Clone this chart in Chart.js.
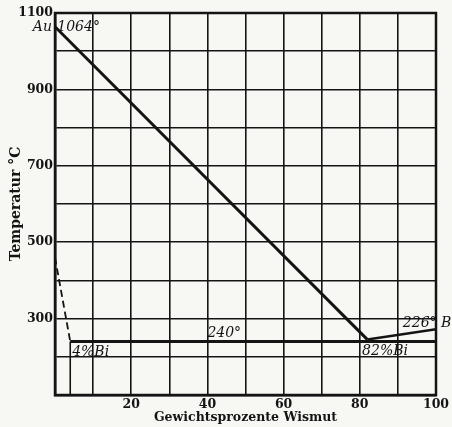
<!DOCTYPE html>
<html>
<head>
<meta charset="utf-8">
<script src="https://cdn.jsdelivr.net/npm/chart.js@4"></script>
<style>
  body { margin: 0; background: #f7f7f4; }
</style>
</head>
<body>
<canvas id="myChart" width="452" height="427"></canvas>
<script>
  // Gold-bismuth diagram, values
  const xTickLabels = [20, 40, 60, 80, 100];
  const yTickLabels = [300, 500, 700, 900, 1100];
  const liquidusAu = [{x: 0, y: 1064}, {x: 82, y: 245}];
  const liquidusBi = [{x: 82, y: 245}, {x: 100, y: 272}];
  const eutectic = [{x: 4, y: 240}, {x: 100, y: 240}];
  const limit4 = [{x: 4, y: 100}, {x: 4, y: 240}];
  const solidus = [{x: 0, y: 460}, {x: 4, y: 240}];
  const notes = [
    {text: '1064°', x: 0.6, y: 1052},
    {text: '240°', x: 40, y: 252},
    {text: '4%Bi', x: 4.5, y: 202},
    {text: '82%Bi', x: 80.6, y: 205},
    {text: '226° Bi', x: 91.3, y: 278}
  ];

  const ink = '#141414';
  const serif = 'DejaVu Serif';

  const paper = {
    id: 'paper',
    beforeDraw(chart) {
      const c = chart.ctx;
      c.save();
      c.fillStyle = '#f7f7f4';
      c.fillRect(0, 0, chart.width, chart.height);
      c.restore();
    }
  };

  const labelsPlugin = {
    id: 'notes',
    afterDatasetsDraw(chart) {
      const c = chart.ctx;
      const xs = chart.scales.x, ys = chart.scales.y;
      c.save();
      c.fillStyle = ink;
      c.font = 'italic 14px "' + serif + '"';
      c.textBaseline = 'alphabetic';
      notes.forEach(n => {
        c.textAlign = 'left';
        c.fillText(n.text, xs.getPixelForValue(n.x), ys.getPixelForValue(n.y));
      });
      // "Au" sits outside the plot, left of the axis
      c.textAlign = 'right';
      c.fillText('Au', xs.getPixelForValue(0) - 3, ys.getPixelForValue(1052));
      // heavier frame
      const a = chart.chartArea;
      c.strokeStyle = ink;
      c.lineWidth = 2.5;
      c.strokeRect(a.left, a.top, a.right - a.left, a.bottom - a.top);
      c.restore();
    }
  };

  function line(data, width, dash) {
    return {
      data: data,
      borderColor: ink,
      borderWidth: width,
      borderDash: dash || [],
      pointRadius: 0,
      tension: 0,
      fill: false
    };
  }

  new Chart(document.getElementById('myChart'), {
    type: 'line',
    data: {
      datasets: [
        line(liquidusAu, 3),
        line(liquidusBi, 2.5),
        line(eutectic, 3),
        line(limit4, 1.6),
        line(solidus, 1.8, [7, 4])
      ]
    },
    plugins: [paper, labelsPlugin],
    options: {
      responsive: false,
      animation: false,
      layout: { padding: { top: 13, right: 16, left: 0, bottom: 0 } },
      plugins: { legend: { display: false }, tooltip: { enabled: false } },
      scales: {
        x: {
          type: 'linear',
          min: 0,
          max: 100,
          afterFit(s) { s.height = 32; },
          ticks: {
            stepSize: 10,
            autoSkip: false,
            maxRotation: 0,
            padding: 2,
            color: ink,
            font: { family: serif, size: 12.5, weight: 'bold' },
            callback: v => xTickLabels.includes(v) ? v : ''
          },
          grid: { color: ink, lineWidth: 1.6, drawTicks: false },
          border: { color: ink, width: 2.5 },
          title: {
            display: true,
            text: 'Gewichtsprozente Wismut',
            color: ink,
            font: { family: serif, size: 12.5, weight: 'bold' },
            padding: { top: 0, bottom: 2 }
          }
        },
        y: {
          min: 100,
          max: 1100,
          afterFit(s) { s.width = 55; },
          ticks: {
            stepSize: 100,
            autoSkip: false,
            padding: 2,
            color: ink,
            font: { family: serif, size: 12.5, weight: 'bold' },
            callback: v => yTickLabels.includes(v) ? v : ''
          },
          grid: { color: ink, lineWidth: 1.6, drawTicks: false },
          border: { color: ink, width: 2.5 },
          title: {
            display: true,
            text: 'Temperatur °C',
            color: ink,
            font: { family: serif, size: 14, weight: 'bold' },
            padding: { top: 8, bottom: 0 }
          }
        }
      }
    }
  });
</script>
</body>
</html>
